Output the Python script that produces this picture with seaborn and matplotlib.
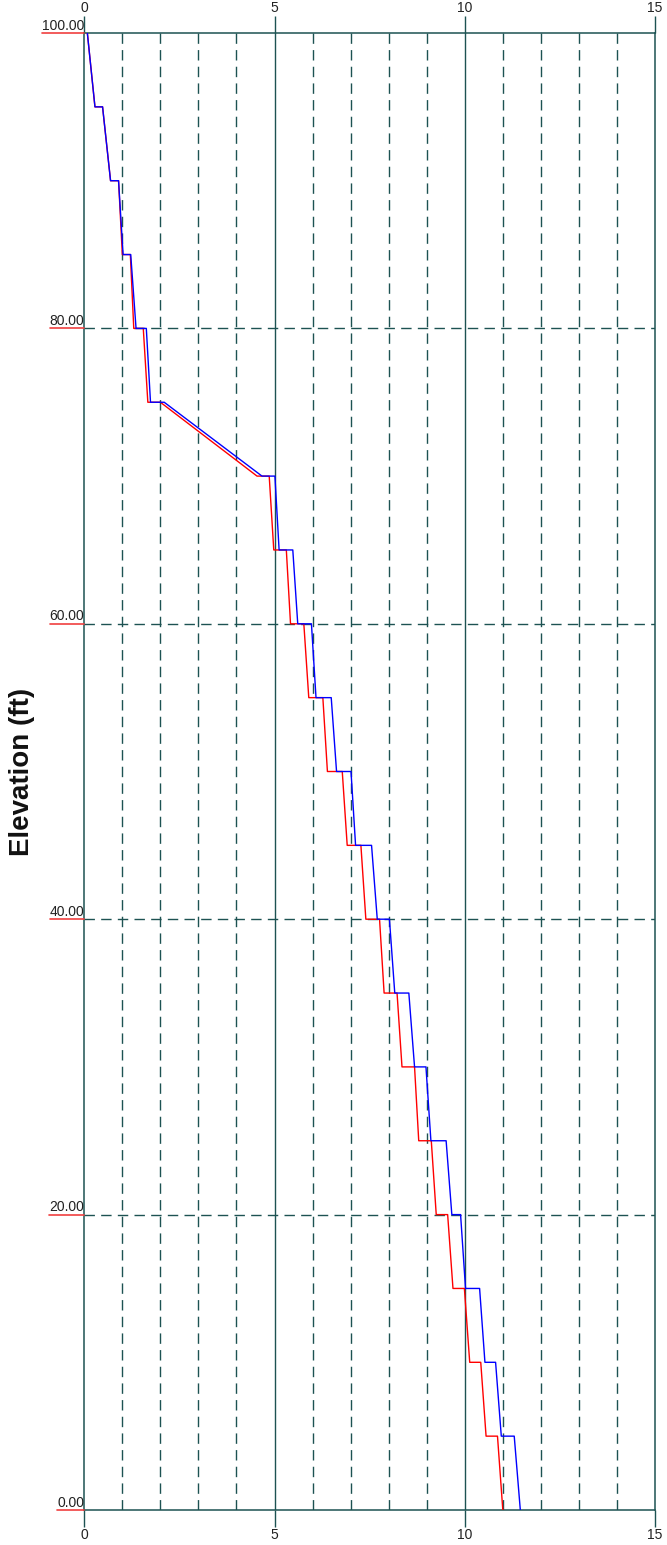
import numpy as np
import pandas as pd
import matplotlib
matplotlib.use("Agg")
import matplotlib.pyplot as plt
from matplotlib.lines import Line2D
import seaborn as sns

# Elevation at the top of each 5 ft interval
tops = [100, 95, 90, 85, 80, 75, 70, 65, 60, 55, 50, 45, 40, 35, 30, 25, 20, 15, 10, 5]
interval = 5

# Red profile: value at top and bottom of each interval
red_start = [0.08, 0.48, 0.90, 1.21, 1.55, 2.00, 4.86, 5.31, 5.77, 6.27,
             6.78, 7.27, 7.76, 8.22, 8.68, 9.12, 9.55, 9.99, 10.42, 10.86]
red_end = [0.28, 0.69, 1.00, 1.30, 1.67, 4.54, 4.98, 5.42, 5.90, 6.39,
           6.91, 7.40, 7.88, 8.35, 8.79, 9.25, 9.69, 10.13, 10.56, 11.00]

# Blue profile: value at top and bottom of each interval
blue_start = [0.08, 0.48, 0.90, 1.22, 1.63, 2.10, 5.01, 5.48, 5.97, 6.49,
              7.01, 7.55, 8.02, 8.53, 8.98, 9.51, 9.89, 10.39, 10.81, 11.30]
blue_end = [0.28, 0.69, 1.02, 1.36, 1.74, 4.67, 5.12, 5.61, 6.09, 6.63,
            7.13, 7.70, 8.16, 8.68, 9.11, 9.66, 10.02, 10.53, 10.96, 11.46]

x_ticks = [0, 5, 10, 15]
y_ticks = [0, 20, 40, 60, 80, 100]
y_label = "Elevation (ft)"

GRID = "#1d5252"


def profile(starts, ends, name):
    xs, ys = [], []
    for top, a, b in zip(tops, starts, ends):
        xs += [a, b]
        ys += [top, top - interval]
    return pd.DataFrame({"x": xs, "elev": ys, "series": name})


data = pd.concat([profile(red_start, red_end, "red"),
                  profile(blue_start, blue_end, "blue")], ignore_index=True)

sns.set_style("white")
plt.rcParams["font.family"] = ["Liberation Sans", "DejaVu Sans"]

fig = plt.figure(figsize=(6.67, 15.45), dpi=100)
ax = fig.add_axes([84.3 / 667, 1 - 1510 / 1545, (655 - 84.3) / 667, (1510 - 33) / 1545])

# grid: dashed at every unit, solid at the major steps
for v in range(1, 15):
    if v in x_ticks:
        ax.axvline(v, color=GRID, lw=1.0, zorder=1)
    else:
        ax.axvline(v, color=GRID, lw=1.0, ls=(0, (7.5, 4.5)), zorder=1)
for v in y_ticks[1:-1]:
    ax.axhline(v, color=GRID, lw=1.0, ls=(0, (7.5, 4.5)), zorder=1)

sns.lineplot(data=data, x="x", y="elev", hue="series", sort=False,
             estimator=None, palette={"red": "#ff0000", "blue": "#0000ff"},
             linewidth=1.0, legend=False, ax=ax, zorder=3)

ax.set_xlim(0, 15)
ax.set_ylim(0, 100)
for s in ax.spines.values():
    s.set_color(GRID)
    s.set_linewidth(1.1)

ax.set_xticks(x_ticks)
ax.set_xticklabels([str(t) for t in x_ticks])
ax.tick_params(axis="x", top=True, bottom=True, labeltop=True, labelbottom=True,
               direction="out", length=12, width=1.0, color=GRID, pad=1,
               labelsize=10, labelcolor="#222222")
ax.set_yticks(y_ticks)
ax.tick_params(axis="y", left=False, right=False, labelleft=False)
ax.set_xlabel("")
ax.set_ylabel("")

# axis title, centred on the plot height
fig.text(22 / 667, 1 - (33 + 1510) / 2 / 1545, y_label, rotation=90,
         ha="center", va="center", fontsize=20, fontweight="bold", color="#111111")

# elevation labels sit above a red underline ending at the axis
labels = []
for v in y_ticks:
    t = ax.annotate(f"{v:.2f}", xy=(0, v), xycoords=("axes fraction", "data"),
                    xytext=(0, 2.5), textcoords="offset points",
                    ha="right", va="baseline", fontsize=10, color="#222222",
                    annotation_clip=False)
    labels.append((v, t))

fig.canvas.draw()
renderer = fig.canvas.get_renderer()
for v, t in labels:
    bb = t.get_window_extent(renderer)
    x_axis, y_disp = ax.transData.transform((0, v))
    fig.add_artist(Line2D([bb.x0, x_axis], [y_disp, y_disp], transform=None,
                          color="#f04040", lw=1.2, zorder=5))

fig.savefig("out.png", dpi=100)
